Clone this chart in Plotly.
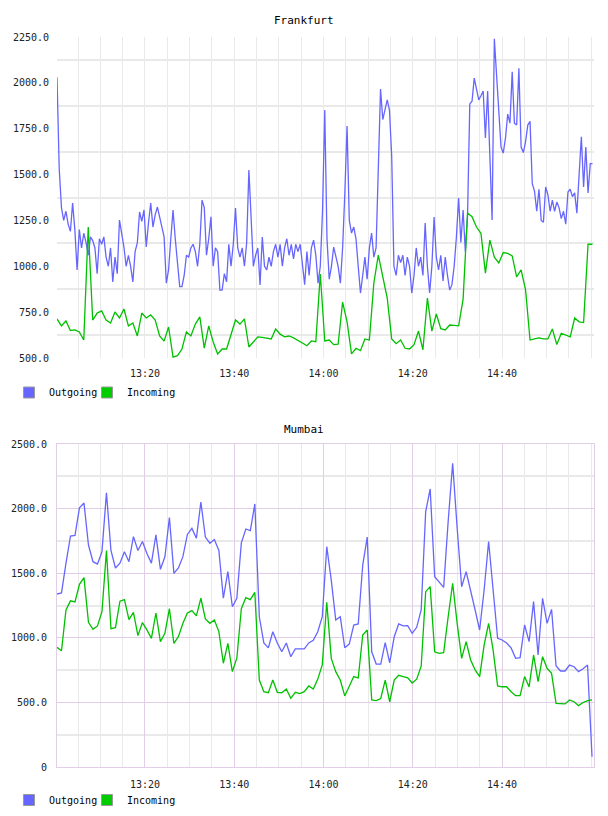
import pandas as pd
import plotly.graph_objects as go

# ---------------- data ----------------
START = "2013-05-14 13:00:17"

# Frankfurt outgoing, one sample every 30 s
FRA_OUT = [
    2030, 1530, 1320, 1250, 1300, 1230, 1190, 1345, 1200, 980,
    1200, 1100, 1180, 1130, 1060, 1160, 1140, 1100, 960, 1150,
    1120, 1160, 1050, 1000, 1100, 915, 1050, 960, 1252, 1180,
    1105, 1000, 1060, 1000, 915, 1080, 1127, 1296, 1245, 1307,
    1105, 1236, 1345, 1214, 1280, 1323, 1270, 1200, 1160, 908,
    980, 1150, 1307, 1150, 1000, 889, 889, 950, 1060, 1050,
    1100, 1120, 1080, 1000, 1120, 1361, 1320, 1060, 1150, 1270,
    1000, 1100, 1080, 870, 870, 960, 915, 1120, 1000, 1120,
    1318, 1100, 1050, 1100, 1000, 1127, 1525, 1240, 1000, 1060,
    1100, 898, 1160, 1000, 980, 1050, 1000, 1080, 1120, 1050,
    1120, 1000, 1100, 1150, 1060, 1120, 1040, 1120, 1080, 1120,
    1000, 900, 1080, 950, 1100, 1143, 1060, 908, 1000, 1300,
    1852, 1150, 930, 1000, 1105, 1060, 1000, 908, 1100, 1400,
    1765, 1250, 1181, 1214, 1150, 1000, 854, 950, 1050, 930,
    1100, 1181, 1050, 1100, 1500, 1966, 1800, 1852, 1907, 1852,
    1600, 1000, 950, 1060, 1020, 1060, 950, 1050, 1000, 854,
    950, 1100, 1000, 1050, 950, 1236, 1000, 854, 1000, 1269,
    1050, 980, 1060, 920, 1050, 950, 870, 900, 1000, 1160,
    1372, 1130, 1307, 1080, 1280, 1885, 1900, 2026, 1966, 1907,
    1930, 1956, 1700, 1956, 1600, 1252, 2240, 2050, 1800, 1650,
    1617, 1700, 1830, 1780, 2060, 1780, 1770, 2080, 1650, 1620,
    1680, 1770, 1790, 1450, 1410, 1300, 1420, 1250, 1240, 1432,
    1390, 1300, 1360, 1300, 1350, 1320, 1260, 1300, 1230, 1405,
    1420, 1380, 1400, 1290, 1500, 1706, 1432, 1650, 1400, 1560,
    1560,
]

# Frankfurt incoming, one sample per minute
FRA_IN = [
    713, 675, 702, 650, 653, 642, 598, 1214, 707, 745,
    757, 707, 691, 751, 718, 767, 675, 691, 620, 745,
    718, 735, 707, 620, 592, 669, 505, 513, 549, 642,
    620, 685, 724, 554, 675, 587, 522, 549, 549, 630,
    707, 685, 713, 560, 590, 615, 612, 610, 604, 658,
    630, 615, 620, 610, 598, 582, 567, 593, 589, 958,
    593, 598, 573, 576, 805, 697, 522, 553, 540, 604,
    598, 909, 1061, 942, 827, 604, 578, 598, 553, 549,
    573, 647, 545, 827, 647, 740, 660, 653, 680, 678,
    675, 821, 1290, 1270, 1214, 1180, 963, 1143, 1050, 1018,
    1075, 1070, 1057, 942, 980, 871, 598, 604, 610, 604,
    604, 658, 573, 635, 626, 615, 718, 697, 693, 1120,
    1120,
]

# Mumbai, one sample per minute
MUM_OUT = [
    1339, 1347, 1578, 1788, 1793, 2007, 2043, 1718, 1589, 1571,
    1666, 2123, 1676, 1540, 1578, 1666, 1589, 1783, 1676, 1745,
    1653, 1578, 1797, 1530, 1627, 1930, 1499, 1540, 1628, 1800,
    1847, 1770, 2051, 1780, 1732, 1760, 1676, 1306, 1512, 1240,
    1306, 1735, 1842, 1830, 2036, 1163, 960, 922, 1047, 960,
    892, 960, 853, 914, 914, 914, 960, 980, 1047, 1163,
    1705, 1447, 1138, 1163, 923, 951, 1099, 1107, 1563, 1780,
    892, 797, 797, 962, 807, 1008, 1107, 1092, 1094, 1035,
    1081, 1215, 1976, 2152, 1473, 1434, 1390, 1900, 2350, 1850,
    1395, 1512, 1370, 1215, 1060, 1370, 1745, 1395, 996, 983,
    960, 922, 841, 846, 1099, 970, 1280, 867, 1306, 1112,
    1220, 782, 743, 743, 789, 776, 738, 760, 789, 80,
]
MUM_IN = [
    926, 900, 1215, 1286, 1278, 1414, 1466, 1120, 1066, 1092,
    1202, 1676, 1071, 1079, 1283, 1296, 1140, 1197, 1017, 1118,
    1061, 996, 1192, 970, 1035, 1225, 957, 1009, 1112, 1192,
    1210, 1170, 1306, 1146, 1112, 1138, 1048, 803, 957, 738,
    842, 1225, 1311, 1296, 1352, 673, 583, 575, 673, 578,
    575, 604, 532, 578, 568, 583, 627, 604, 680, 790,
    1275, 841, 738, 673, 550, 621, 700, 689, 1022, 1060,
    519, 514, 530, 673, 505, 673, 710, 700, 690, 650,
    680, 780, 1357, 1396, 892, 880, 885, 1163, 1422, 1112,
    841, 970, 828, 751, 699, 944, 1112, 905, 627, 621,
    621, 583, 552, 552, 700, 620, 867, 660, 854, 764,
    725, 493, 488, 488, 519, 505, 475, 499, 514, 519,
]

SERIES_NAMES = ["Outgoing", "Incoming"]
CITY_NAMES = ["Frankfurt", "Mumbai"]
X_TICKS = ["2013-05-14 13:20", "2013-05-14 13:40", "2013-05-14 14:00",
           "2013-05-14 14:20", "2013-05-14 14:40"]
FRA_Y_TICKS = [500, 750, 1000, 1250, 1500, 1750, 2000, 2250]
MUM_Y_TICKS = [0, 500, 1000, 1500, 2000, 2500]
MUM_Y_LABELS = ["0", "500.0", "1000.0", "1500.0", "2000.0", "2500.0"]

# ---------------- styles ----------------
BLUE = "#6666ff"
GREEN = "#00c000"
GREEN_SW = "#00cc00"
GRID_GREY = "#e9e9e9"
GRID_PURPLE = "#e2cde6"
FONT = "DejaVu Sans Mono"

W, H = 608, 816
start = pd.Timestamp(START)


def times(n, step_s):
    return [start + pd.Timedelta(seconds=step_s * i) for i in range(n)]


fra_out_t = times(len(FRA_OUT), 30)
fra_in_t = times(len(FRA_IN), 60)
mum_t = times(len(MUM_OUT), 60.45)

x_range = [pd.Timestamp("2013-05-14 13:00:17"), pd.Timestamp("2013-05-14 15:00:37")]

fig = go.Figure()

fig.add_trace(go.Scatter(x=fra_out_t, y=FRA_OUT, mode="lines", line=dict(color=BLUE, width=1.3),
                         xaxis="x", yaxis="y", showlegend=False))
fig.add_trace(go.Scatter(x=fra_in_t, y=FRA_IN, mode="lines", line=dict(color=GREEN, width=1.3),
                         xaxis="x", yaxis="y", showlegend=False))
fig.add_trace(go.Scatter(x=mum_t, y=MUM_OUT, mode="lines", line=dict(color=BLUE, width=1.3),
                         xaxis="x2", yaxis="y2", showlegend=False))
fig.add_trace(go.Scatter(x=mum_t, y=MUM_IN, mode="lines", line=dict(color=GREEN, width=1.3),
                         xaxis="x2", yaxis="y2", showlegend=False))

# legend swatches (plus an invisible spacer entry so the last label is not clipped)
for lg, xa, ya in [("legend", "x", "y"), ("legend2", "x2", "y2")]:
    for name, col in zip(SERIES_NAMES, [BLUE, GREEN_SW]):
        fig.add_trace(go.Scatter(x=[None], y=[None], mode="markers", name=name,
                                 marker=dict(symbol="square", size=11, color=col,
                                             line=dict(color="#999999", width=1)),
                                 xaxis=xa, yaxis=ya, legend=lg, showlegend=True))
    fig.add_trace(go.Scatter(x=[None], y=[None], mode="markers", name="\u00a0",
                             marker=dict(symbol="square", size=11, color="rgba(0,0,0,0)",
                                         line=dict(color="rgba(0,0,0,0)", width=0)),
                             xaxis=xa, yaxis=ya, legend=lg, showlegend=True))

xdom = [57 / W, 594 / W]
top_dom = [1 - 358 / H, 1 - 37 / H]
bot_dom = [1 - 767 / H, 1 - 444 / H]

tickfont = dict(family=FONT, size=10, color="#222222")

common_x = dict(
    type="date", range=x_range, domain=xdom, tickformat="%H:%M",
    tickvals=X_TICKS, ticks="", tickfont=tickfont,
    zeroline=False, ticklabelstandoff=8, fixedrange=True, automargin=False,
)

legend_common = dict(orientation="h", xanchor="left", yanchor="middle",
                     font=dict(family=FONT, size=10, color="#000000"),
                     bgcolor="rgba(0,0,0,0)", entrywidth=33, itemclick=False,
                     tracegroupgap=0)

fig.update_layout(
    width=W, height=H, margin=dict(l=0, r=0, t=0, b=0, autoexpand=False),
    paper_bgcolor="white", plot_bgcolor="white",
    font=dict(family=FONT, size=11, color="#000000"),
    xaxis=dict(common_x, anchor="y", showgrid=True, gridcolor=GRID_GREY, gridwidth=1,
               minor=dict(dtick=5 * 60 * 1000, tick0="2013-05-14 13:00:00", showgrid=True,
                          gridcolor=GRID_GREY, gridwidth=1)),
    yaxis=dict(domain=top_dom, range=[500, 2250], anchor="x", tickvals=FRA_Y_TICKS,
               tickformat=".1f", ticks="", tickfont=tickfont, showgrid=False, zeroline=False,
               ticklabelstandoff=7, automargin=False, fixedrange=True,
               minor=dict(tick0=625, dtick=250, showgrid=True, gridcolor=GRID_GREY, gridwidth=1.5)),
    xaxis2=dict(common_x, anchor="y2", showgrid=True, gridcolor=GRID_PURPLE, gridwidth=1,
                showline=True, linecolor=GRID_PURPLE, linewidth=1, mirror=True,
                minor=dict(dtick=5 * 60 * 1000, tick0="2013-05-14 13:00:00", showgrid=True,
                           gridcolor=GRID_GREY, gridwidth=1)),
    yaxis2=dict(domain=bot_dom, range=[0, 2500], anchor="x2",
                tickvals=MUM_Y_TICKS, ticktext=MUM_Y_LABELS,
                ticks="", tickfont=tickfont, showgrid=True, gridcolor=GRID_PURPLE, gridwidth=1,
                zeroline=False, showline=True, linecolor=GRID_PURPLE, linewidth=1, mirror=True,
                ticklabelstandoff=7, automargin=False, fixedrange=True,
                minor=dict(tick0=250, dtick=500, showgrid=True, gridcolor=GRID_GREY, gridwidth=1.5)),
    legend=dict(legend_common, x=9 / W, y=1 - 392.5 / H),
    legend2=dict(legend_common, x=9 / W, y=1 - 800 / H),
    annotations=[
        dict(text=CITY_NAMES[0], x=0.5, y=1 - 20.5 / H, xref="paper", yref="paper",
             xanchor="center", yanchor="middle",
             showarrow=False, font=dict(family=FONT, size=11, color="#000000")),
        dict(text=CITY_NAMES[1], x=0.5, y=1 - 429 / H, xref="paper", yref="paper",
             xanchor="center", yanchor="middle",
             showarrow=False, font=dict(family=FONT, size=11, color="#000000")),
    ],
)

fig.write_html("out.html")
